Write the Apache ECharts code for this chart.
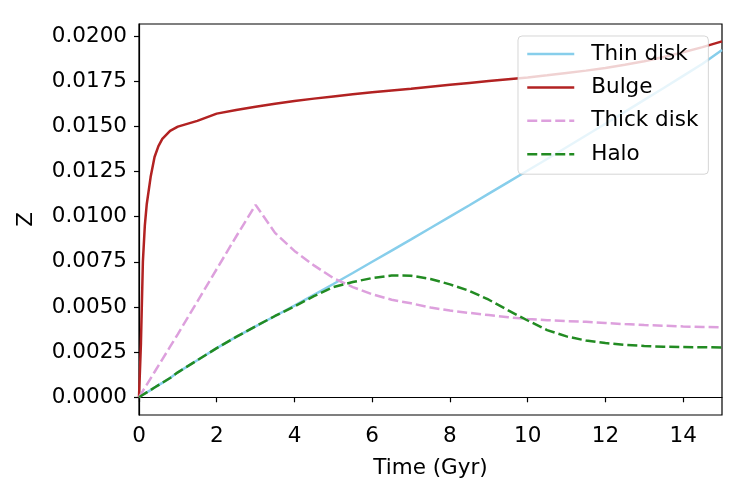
<!DOCTYPE html>
<html>
<head>
<meta charset="utf-8">
<script src="https://cdn.jsdelivr.net/npm/echarts@6/dist/echarts.min.js"></script>
<style>
  html, body { margin: 0; padding: 0; background: #fff; }
  #chart { width: 747px; height: 498px; }
</style>
</head>
<body>
<div id="chart"></div>
<script>
// 时间轴 (Gyr) 与各成分金属丰度 Z
const time = [0, 0.05, 0.1, 0.15, 0.2, 0.3, 0.4, 0.5, 0.6, 0.8, 1, 1.5, 2, 2.5, 3, 3.5, 4, 4.5, 5, 5.5,
    6, 6.5, 7, 7.5, 8, 8.5, 9, 9.5, 10, 10.5, 11, 11.5, 12, 12.5, 13, 13.5, 14, 14.5, 15];

const thinDisk = [0, 0.00007, 0.00014, 0.0002, 0.00027, 0.0004, 0.00054, 0.00067, 0.0008, 0.00107, 0.00138,
    0.00205, 0.00272, 0.00334, 0.00393, 0.0045, 0.00507, 0.00567, 0.00627, 0.00688,
    0.0075, 0.00812, 0.00874, 0.00937, 0.01, 0.01063, 0.01127, 0.01191, 0.01255, 0.01319,
    0.01384, 0.01449, 0.01514, 0.0158, 0.01646, 0.01712, 0.01779, 0.01846, 0.01922];

const bulge = [0, 0.003, 0.0075, 0.0095, 0.0107, 0.0122, 0.0133, 0.0139, 0.0143, 0.01475, 0.01498,
    0.0153, 0.0157, 0.0159, 0.01608, 0.01625, 0.0164, 0.01653, 0.01665, 0.01677,
    0.01688, 0.01698, 0.01708, 0.01719, 0.0173, 0.0174, 0.0175, 0.0176, 0.0177, 0.01782,
    0.01795, 0.01808, 0.01822, 0.0184, 0.0186, 0.01883, 0.0191, 0.01938, 0.0197];

const thickDisk = [0, 0.00018, 0.00035, 0.00053, 0.0007, 0.00105, 0.0014, 0.00175, 0.0021, 0.0028, 0.0035,
    0.0053, 0.0071, 0.0089, 0.01065, 0.0091, 0.0081, 0.0073, 0.0066, 0.0061,
    0.0057, 0.0054, 0.0052, 0.00497, 0.0048, 0.00467, 0.00455, 0.00443, 0.00433, 0.00427,
    0.00422, 0.00418, 0.00411, 0.00405, 0.004, 0.00396, 0.00392, 0.00389, 0.00387];

const halo = [0, 0.00007, 0.00014, 0.0002, 0.00027, 0.0004, 0.00054, 0.00067, 0.0008, 0.00107, 0.00138,
    0.00205, 0.00272, 0.00334, 0.00393, 0.0045, 0.00503, 0.0056, 0.0061, 0.00638,
    0.0066, 0.00674, 0.00673, 0.00655, 0.00625, 0.00589, 0.0054, 0.00481, 0.00425, 0.00372,
    0.00337, 0.00314, 0.003, 0.0029, 0.00284, 0.0028, 0.00278, 0.00277, 0.00276];

const xTicks = [0, 2, 4, 6, 8, 10, 12, 14];
const yTicks = [0, 0.0025, 0.005, 0.0075, 0.01, 0.0125, 0.015, 0.0175, 0.02];

const FONT = 'DejaVu Sans';
const FS = 21.5;
const LW = 2.5;

function pairs(values) {
    return time.map((t, i) => [t, values[i]]);
}

function makeLine(name, values, color, dashed) {
    return {
        name: name,
        type: 'line',
        data: pairs(values),
        symbol: 'none',
        smooth: false,
        animation: false,
        lineStyle: {
            color: color,
            width: LW,
            type: dashed ? [10, 4] : 'solid'
        },
        itemStyle: { color: color }
    };
}

const chart = echarts.init(document.getElementById('chart'));

const axisCommon = {
    axisLine: { show: true, lineStyle: { color: '#000', width: 1.2 } },
    axisTick: { show: true, inside: false, length: 5, lineStyle: { color: '#000', width: 1.2 } },
    splitLine: { show: false }
};

chart.setOption({
    backgroundColor: '#fff',
    animation: false,
    grid: {
        left: 139,
        right: 25,
        top: 24,
        bottom: 83,
        show: true,
        borderColor: '#000',
        borderWidth: 1.2,
        backgroundColor: 'transparent'
    },
    xAxis: Object.assign({}, axisCommon, {
        type: 'value',
        min: 0,
        max: 15,
        name: 'Time (Gyr)',
        nameLocation: 'middle',
        nameGap: 42,
        nameTextStyle: { fontFamily: FONT, fontSize: FS, color: '#000' },
        axisTick: Object.assign({}, axisCommon.axisTick, { customValues: xTicks }),
        axisLabel: {
            customValues: xTicks,
            fontFamily: FONT,
            fontSize: FS,
            color: '#000',
            margin: 10
        }
    }),
    yAxis: Object.assign({}, axisCommon, {
        type: 'value',
        min: -0.00098,
        max: 0.02066,
        name: 'Z',
        nameLocation: 'middle',
        nameRotate: 90,
        nameGap: 102,
        nameTextStyle: { fontFamily: FONT, fontSize: FS, color: '#000' },
        axisTick: Object.assign({}, axisCommon.axisTick, { customValues: yTicks }),
        axisLabel: {
            customValues: yTicks,
            fontFamily: FONT,
            fontSize: FS,
            color: '#000',
            margin: 12,
            formatter: (v) => v.toFixed(4)
        }
    }),
    legend: {
        orient: 'vertical',
        left: 518,
        top: 36,
        padding: [7, 10, 9, 8],
        itemWidth: 47,
        itemHeight: 22,
        itemGap: 11.4,
        backgroundColor: 'rgba(255,255,255,0.8)',
        borderColor: 'rgba(204,204,204,0.8)',
        borderWidth: 1,
        borderRadius: 4,
        itemStyle: { opacity: 0 },
        lineStyle: { width: LW },
        textStyle: {
            fontFamily: FONT,
            fontSize: FS,
            color: '#000',
            padding: [0, 0, 0, 12]
        },
        data: ['Thin disk', 'Bulge', 'Thick disk', 'Halo']
    },
    series: [
        makeLine('Thin disk', thinDisk, '#87CEEB', false),
        makeLine('Bulge', bulge, '#B22222', false),
        makeLine('Thick disk', thickDisk, '#DDA0DD', true),
        makeLine('Halo', halo, '#228B22', true)
    ]
});
</script>
</body>
</html>
